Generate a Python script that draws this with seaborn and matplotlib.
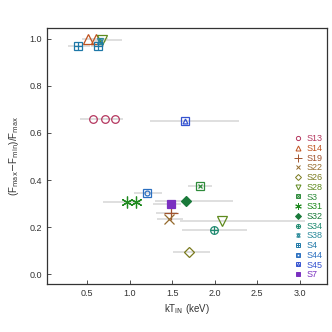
import matplotlib
matplotlib.use('Agg')

import matplotlib.pyplot as plt
import seaborn as sns

# source names, colours and measured points (x, y, x_lo, x_hi)
sources = ['S13', 'S14', 'S19', 'S22', 'S26', 'S28', 'S3', 'S31', 'S32',
           'S34', 'S38', 'S4', 'S44', 'S45', 'S7']
colors = ['#b5375f', '#c0521e', '#a0522d', '#946a2c', '#7a7a1e', '#5f8a1e',
          '#2e8b3a', '#1f8a1f', '#1a7a3a', '#1f8a70', '#2a8a9a', '#1e78a8',
          '#2a6fc0', '#3553d0', '#7a30c0']

s13_x = [0.57, 0.71, 0.83]
s13_y = [0.66, 0.66, 0.66]
s13_lo = [0.42, 0.60, 0.72]
s13_hi = [0.70, 0.85, 0.92]

s14_x = [0.51, 0.61]
s14_y = [1.0, 1.0]
s14_lo = [0.44, 0.52]
s14_hi = [0.62, 0.75]

s19_x = [1.49]
s19_y = [0.262]
s19_lo = [1.31]
s19_hi = [1.56]

s22_x = [1.46]
s22_y = [0.237]
s22_lo = [1.32]
s22_hi = [1.63]

s26_x = [1.70]
s26_y = [0.097]
s26_lo = [1.51]
s26_hi = [1.94]

s28_x = [0.67, 2.09]
s28_y = [0.995, 0.225]
s28_lo = [0.55, 1.59]
s28_hi = [0.91, 3.06]

s3_x = [1.83]
s3_y = [0.375]
s3_lo = [1.68]
s3_hi = [1.97]

s31_x = [0.97, 1.07]
s31_y = [0.305, 0.305]
s31_lo = [0.69, 0.95]
s31_hi = [1.08, 1.13]

s32_x = [1.66]
s32_y = [0.313]
s32_lo = [1.30]
s32_hi = [2.21]

s34_x = [1.99]
s34_y = [0.19]
s34_lo = [1.61]
s34_hi = [2.38]

s38_x = [0.65]
s38_y = [0.99]
s38_lo = [0.58]
s38_hi = [0.72]

s4_x = [0.39, 0.63]
s4_y = [0.97, 0.97]
s4_lo = [0.28, 0.55]
s4_hi = [0.53, 0.70]

s44_x = [1.20]
s44_y = [0.345]
s44_lo = [1.05]
s44_hi = [1.38]

s45_x = [1.65]
s45_y = [0.65]
s45_lo = [1.24]
s45_hi = [2.28]

s7_x = [1.49]
s7_y = [0.30]
s7_lo = [1.28]
s7_hi = [1.60]

data = {
    'S13': (s13_x, s13_y, s13_lo, s13_hi), 'S14': (s14_x, s14_y, s14_lo, s14_hi),
    'S19': (s19_x, s19_y, s19_lo, s19_hi), 'S22': (s22_x, s22_y, s22_lo, s22_hi),
    'S26': (s26_x, s26_y, s26_lo, s26_hi), 'S28': (s28_x, s28_y, s28_lo, s28_hi),
    'S3': (s3_x, s3_y, s3_lo, s3_hi), 'S31': (s31_x, s31_y, s31_lo, s31_hi),
    'S32': (s32_x, s32_y, s32_lo, s32_hi), 'S34': (s34_x, s34_y, s34_lo, s34_hi),
    'S38': (s38_x, s38_y, s38_lo, s38_hi), 'S4': (s4_x, s4_y, s4_lo, s4_hi),
    'S44': (s44_x, s44_y, s44_lo, s44_hi), 'S45': (s45_x, s45_y, s45_lo, s45_hi),
    'S7': (s7_x, s7_y, s7_lo, s7_hi),
}

# marker layers per source: (marker, filled, size)
markers = {
    'S13': [('o', False, 5.5)],
    'S14': [('^', False, 6.5)],
    'S19': [('+', True, 10)],
    'S22': [('x', True, 6.5)],
    'S26': [('D', False, 5.5)],
    'S28': [('v', False, 6.5)],
    'S3': [('s', False, 5.5), ('x', True, 3.5)],
    'S31': [((6, 2, 0), True, 8.5)],
    'S32': [('D', True, 5.5), ('+', True, 3.5)],
    'S34': [('o', False, 5.5), ('+', True, 5.5)],
    'S38': [('^', False, 4.5), ('v', False, 4.5)],
    'S4': [('s', False, 5.5), ('+', True, 5.5)],
    'S44': [('s', False, 5.5), ('o', False, 3.5)],
    'S45': [('s', False, 5.5), ('^', False, 3.5)],
    'S7': [('s', True, 5.5)],
}

sns.set_style("ticks")
plt.rcParams['font.family'] = ['Liberation Sans', 'DejaVu Sans']

fig = plt.figure(figsize=(3.32, 3.32), dpi=100)
ax = fig.add_axes([0.142, 0.145, 0.843, 0.771])

handles = []
for name, col in zip(sources, colors):
    x, y, lo, hi = data[name]
    xerr = [[xi - l for xi, l in zip(x, lo)], [h - xi for xi, h in zip(x, hi)]]
    ax.errorbar(x, y, xerr=xerr, fmt='none', ecolor='#d9d9d9', elinewidth=1.2,
                capsize=0, zorder=1)
    layers = []
    for m, filled, ms in markers[name]:
        ax.plot(x, y, linestyle='none', marker=m, markersize=ms,
                markeredgecolor=col, markeredgewidth=0.9,
                markerfacecolor=col if filled else 'none', zorder=3)
        layers.append(plt.Line2D([], [], linestyle='none', marker=m,
                                 markersize=ms * 0.55, markeredgecolor=col,
                                 markeredgewidth=0.7,
                                 markerfacecolor=col if filled else 'none'))
    handles.append(tuple(layers))

ax.legend(handles, sources, loc='lower right', frameon=False, fontsize=6.5,
          labelcolor=colors, handlelength=0.8, handletextpad=0.5,
          labelspacing=0.08, borderaxespad=0.1,
          bbox_to_anchor=(1.0, 0.0))

ax.set_xlim(0.03, 3.32)
ax.set_ylim(-0.04, 1.045)
ax.set_xticks([0.5, 1.0, 1.5, 2.0, 2.5, 3.0])
ax.set_yticks([0.0, 0.2, 0.4, 0.6, 0.8, 1.0])
ax.tick_params(direction='in', length=3, width=0.6, labelsize=6.5,
               colors='#333333', top=False, right=False)
for sp in ax.spines.values():
    sp.set_color('#333333')
    sp.set_linewidth(0.9)

ax.set_xlabel(r'kT$_{\rm IN}$ (keV)', fontsize=7, color='#333333', labelpad=3)
ax.set_ylabel(r'(F$_{\rm max}$$-$F$_{\rm min}$)/F$_{\rm max}$', fontsize=7,
              color='#333333', labelpad=6)

plt.savefig('out.png', dpi=100)
plt.close(fig)
